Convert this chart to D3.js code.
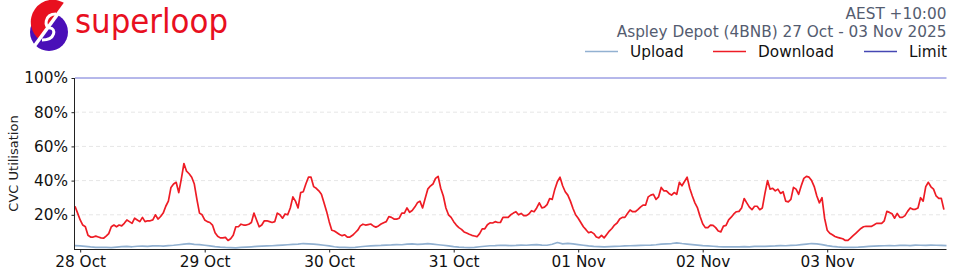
<!DOCTYPE html>
<html>
<head>
<meta charset="utf-8">
<script src="https://cdn.jsdelivr.net/npm/d3@7"></script>
<style>
    body { margin: 0; background: #fff; }
    svg { display: block; font-family: "DejaVu Sans", sans-serif; }
</style>
</head>
<body>
<div id="chart"></div>
<script>
// Series start (AEST, kept as UTC so the axis does not shift)
var startTime = Date.UTC(2025, 9, 27, 23, 0);
var endTime = Date.UTC(2025, 10, 3, 23, 0);

// Download utilisation (%), one value every 30 minutes, one row per day
var downloadValues = [
    25,21,17,14,13,8,7,7, 7.5,7,6.5,6.3,7.5,9,13,14, 13,14,13.5,15,17,16,15,18, 17,16,18.5,16,16.5,16.5,17,20, 17.5,19,21,25,28,36,38,39, 33,41,50,45.5,44,42,38,29,
    21,20,17,16,15.5,14,9.5,7.5, 6.5,6.5,6.8,5,6,8,13,13, 14.5,14,14,14.5,15.5,21,17,13, 14,16.5,16.5,16,15.5,16,21,20, 18,20.5,20,24,30.5,28,24,33, 33.5,38,42,42,36.5,35.5,34,32,
    27,22,16,11,10.5,9.5,8.5,7.8, 8.3,7,7,8,9.5,11,13.5,14.5, 14,14.3,14.6,13.5,12.8,13.5,14.6,15.4, 16,19,18.5,17.5,17.5,18,21,21, 24,21.5,22.5,24.5,27,28,24,29.5, 35,36.8,38,41.3,42.5,35.5,31,24,
    20,18.5,16,14,12.5,11.5,10,9.3, 8.6,8,7.6,7.2,9,11.8,11.8,14.2, 15.3,15.2,16,15.5,15.5,18.5,18.5,18.5, 20,21,21.8,20,20.8,19.5,19.5,20.5, 22.4,21.8,24,27,24,24.5,26,29.5, 29,35,39.5,42,37,33.5,31.5,28,
    23.7,20,18,15.5,13,11.3,9.5,10, 9,7,6.5,8,6.5,8.5,10.5,12, 14,15.2,17.5,18.5,18.5,20.8,22.8,21.8, 21.8,23,24.5,25.7,25.7,30.5,31.5,32, 29,30.5,36,34,34,32.5,31.5,33, 32,39,37,39.5,42,35.5,31,27,
    24,19,14.8,12.5,12.5,14,13.8,12.5, 10.5,10,13.4,13.8,17,18.6,20.5,21.8, 22,24,29.5,27,24.5,23,25,25, 23,24,32.5,40,35,35.5,34,35, 32.5,33.5,28,27.6,29,36,35,32, 37,41.3,42.5,42,40,36.5,31,27,
    30,18,11,9.2,8.3,7.3,6.8,6.4, 6,5,5,6.3,7.8,9.2,10.6,12, 13,13.3,13.2,13.2,14,15,15,15, 16.5,22,21.4,20.6,18,20.8,18.5,18.5, 19.5,22,24,23.2,23.2,24,30,28, 36.5,39,36.4,35,31,29.6,29.6,23
];

// Upload utilisation (%), one value every hour
var uploadValues = [
    2.0,1.8,1.5,1.2,1.0,0.9,1.0,0.8,1.1,1.4,1.5,1.3,1.6,1.7,1.5,1.8,1.9,1.7,2.0,2.2,2.5,2.8,3.1,2.7,
    2.6,2.2,1.8,1.4,1.1,0.9,0.8,0.7,0.9,1.1,1.3,1.5,1.7,1.8,1.9,2.1,2.3,2.5,2.7,2.9,3.2,3.0,2.8,2.6,
    2.2,1.8,1.3,1.0,0.9,0.8,1.0,1.3,1.6,1.8,2.0,2.1,2.3,2.4,2.6,2.5,2.8,3.0,2.7,2.9,3.1,2.8,2.5,2.2,
    1.8,1.4,1.1,0.9,0.8,1.0,1.3,1.6,1.9,2.0,2.2,2.1,2.0,2.1,2.3,2.2,2.4,2.6,2.3,2.2,2.8,3.8,3.0,3.3,
    3.0,2.6,2.2,1.8,1.5,1.4,1.3,1.4,1.5,1.6,1.8,1.9,2.0,2.1,2.2,2.3,2.5,2.8,3.0,3.2,3.6,3.2,2.9,2.6,
    2.3,2.0,1.8,1.6,1.4,1.3,1.2,1.3,1.2,1.4,1.3,1.5,1.6,1.5,1.7,1.8,2.0,1.9,2.1,2.2,2.6,2.9,3.2,3.0,
    2.6,2.0,1.5,1.2,1.0,0.9,1.0,1.1,1.3,1.5,1.7,1.8,1.9,2.0,1.9,2.1,2.2,2.0,2.3,2.2,2.1,2.3,2.2,2.1,
    2.0
];

var limitValue = 100;
var yTicks = [20, 40, 60, 80, 100];

var legendItems = [
    { name: "Upload", color: "#92b1d1" },
    { name: "Download", color: "#ee1c25" },
    { name: "Limit", color: "#4547b3" }
];

var titleLines = ["AEST +10:00", "Aspley Depot (4BNB) 27 Oct - 03 Nov 2025"];

// Build dated points
var download = downloadValues.map(function(v, i) {
    return { t: new Date(startTime + i * 30 * 60000), v: v };
});
var upload = uploadValues.map(function(v, i) {
    return { t: new Date(startTime + i * 60 * 60000), v: v };
});

var W = 960, H = 280;
var plot = { left: 75, right: 946.5, top: 78, bottom: 249 };

var svg = d3.select("#chart").append("svg")
    .attr("width", W)
    .attr("height", H);

var x = d3.scaleUtc()
    .domain([new Date(startTime), new Date(endTime)])
    .range([plot.left, plot.right]);

var y = d3.scaleLinear()
    .domain([0, 100])
    .range([plot.bottom, plot.top]);

// Dashed grid
svg.append("g")
    .selectAll("line")
    .data(yTicks.slice(0, -1))
    .enter().append("line")
        .attr("x1", plot.left)
        .attr("x2", plot.right)
        .attr("y1", function(d) { return y(d); })
        .attr("y2", function(d) { return y(d); })
        .attr("stroke", "#e6e6e6")
        .attr("stroke-dasharray", "4,3")
        .attr("stroke-width", 1);

// Lines
var line = d3.line()
    .x(function(d) { return x(d.t); })
    .y(function(d) { return y(d.v); });

svg.append("path")
    .datum(upload)
    .attr("d", line)
    .attr("fill", "none")
    .attr("stroke", legendItems[0].color)
    .attr("stroke-width", 1.7)
    .attr("stroke-linejoin", "round");

svg.append("path")
    .datum(download)
    .attr("d", line)
    .attr("fill", "none")
    .attr("stroke", legendItems[1].color)
    .attr("stroke-width", 1.7)
    .attr("stroke-linejoin", "round");

svg.append("line")
    .attr("x1", plot.left)
    .attr("x2", plot.right)
    .attr("y1", y(limitValue))
    .attr("y2", y(limitValue))
    .attr("stroke", "#6d70d6")
    .attr("stroke-width", 1);

// Axes
var yAxis = d3.axisLeft(y)
    .tickValues(yTicks)
    .tickSize(3.5)
    .tickPadding(3.5)
    .tickFormat(function(d) { return d + "%"; });

var gy = svg.append("g")
    .attr("transform", `translate(${plot.left},0)`)
    .call(yAxis);
gy.select(".domain").attr("d", `M-0.5,${plot.top}V${plot.bottom}`);

var xAxis = d3.axisBottom(x)
    .ticks(d3.utcDay.every(1))
    .tickSize(3.5)
    .tickPadding(3.5)
    .tickFormat(d3.utcFormat("%d %b"));

var gx = svg.append("g")
    .attr("transform", `translate(0,${plot.bottom})`)
    .call(xAxis);
gx.select(".domain").attr("d", `M${plot.left - 1},0.5H${plot.right}`);

svg.selectAll(".tick text")
    .style("font-size", "15.3px")
    .style("font-family", "DejaVu Sans")
    .attr("fill", "#111");
svg.selectAll(".domain, .tick line").attr("stroke", "#222").attr("stroke-width", 1);

svg.append("text")
    .attr("transform", `translate(18,${(plot.top + plot.bottom) / 2}) rotate(-90)`)
    .attr("text-anchor", "middle")
    .style("font-size", "13px")
    .attr("fill", "#222")
    .text("CVC Utilisation");

// Title block (top right)
svg.selectAll(".title")
    .data(titleLines)
    .enter().append("text")
        .attr("class", "title")
        .attr("x", 946.5)
        .attr("y", function(d, i) { return 18.5 + i * 18.5; })
        .attr("text-anchor", "end")
        .style("font-size", "15.3px")
        .attr("fill", "#545c70")
        .text(function(d) { return d; });

// Legend
var legendX = [585, 713, 864];
var legend = svg.selectAll(".legend")
    .data(legendItems)
    .enter().append("g")
        .attr("transform", function(d, i) { return `translate(${legendX[i]},0)`; });

legend.append("line")
    .attr("x1", 0).attr("x2", 33)
    .attr("y1", 51.5).attr("y2", 51.5)
    .attr("stroke", function(d) { return d.color; })
    .attr("stroke-width", 1.6);

legend.append("text")
    .attr("x", 45)
    .attr("y", 56.5)
    .style("font-size", "15.3px")
    .attr("fill", "#111")
    .text(function(d) { return d.name; });

// Logo
var logo = svg.append("g");
logo.append("circle").attr("cx", 49).attr("cy", 32).attr("r", 19).attr("fill", "#4a0fb8");
logo.append("path")
    .attr("d", "M66,4 A22,22 0 1 0 40,40 L66,4 Z")
    .attr("fill", "#e8101f");
logo.append("path")
    .attr("d", "M68,0 L30,52")
    .attr("stroke", "#fff")
    .attr("stroke-width", 3.5);
logo.append("path")
    .attr("d", "M56,14 C44,14 44,28 50,28 C56,28 56,40 42,40")
    .attr("fill", "none")
    .attr("stroke", "#fff")
    .attr("stroke-width", 3);

svg.append("text")
    .attr("x", 75)
    .attr("y", 33)
    .attr("textLength", 153)
    .attr("lengthAdjust", "spacingAndGlyphs")
    .style("font-family", "DejaVu Sans")
    .style("font-size", "33px")
    .attr("fill", "#e8101f")
    .text("superloop");
</script>
</body>
</html>
